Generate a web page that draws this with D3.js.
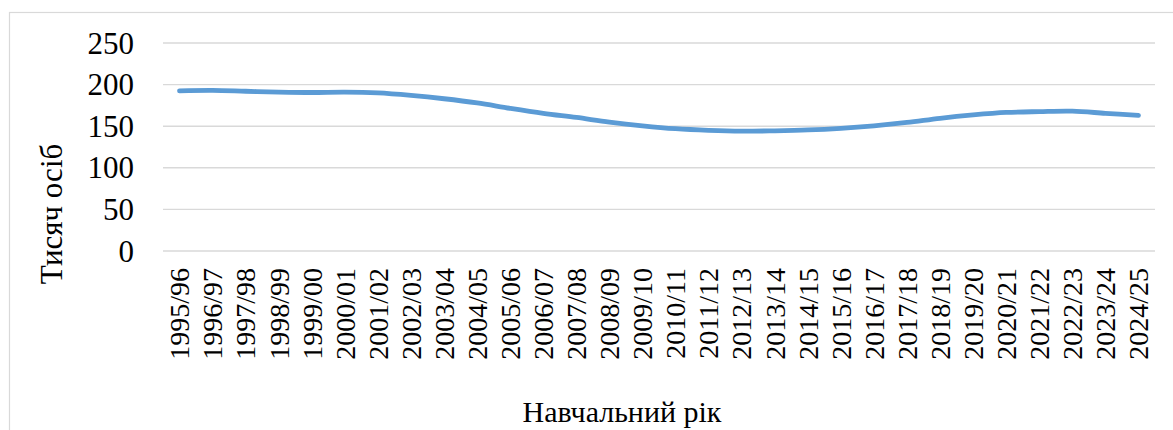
<!DOCTYPE html>
<html>
<head>
<meta charset="utf-8">
<script src="https://cdn.jsdelivr.net/npm/d3@7"></script>
</head>
<body style="margin:0">
<svg width="1173" height="430"></svg>
<script>
const years = ["1995/96", "1996/97", "1997/98", "1998/99", "1999/00", "2000/01", "2001/02", "2002/03",
  "2003/04", "2004/05", "2005/06", "2006/07", "2007/08", "2008/09", "2009/10", "2010/11", "2011/12",
  "2012/13", "2013/14", "2014/15", "2015/16", "2016/17", "2017/18", "2018/19", "2019/20", "2020/21",
  "2021/22", "2022/23", "2023/24", "2024/25"]
const students = [192.5, 193, 192, 191, 190.5, 191, 190, 187, 183, 178, 171.5, 165.5, 160.5, 155,
  150.5, 147, 145, 144, 144.5, 145.5, 147.5, 150.5, 154.5, 159.5, 163.5, 166.5, 167.5, 168, 165.5, 163]
const yTicks = [0, 50, 100, 150, 200, 250]

const svg = d3.select("svg")
const plotLeft = 163, plotRight = 1155, plotTop = 43, plotBottom = 251

// chart area border (runs off the right and bottom of the picture)
svg.append("rect")
  .attr("x", 9.5).attr("y", 12.5)
  .attr("width", 1300).attr("height", 600)
  .attr("fill", "none")
  .attr("stroke", "#d9d9d9")
  .attr("stroke-width", 1.2)

const x = d3.scaleBand().domain(years).range([plotLeft, plotRight])
const y = d3.scaleLinear().domain([0, 250]).range([plotBottom, plotTop])

svg.append("g")
  .selectAll("line")
  .data(yTicks)
  .join("line")
  .attr("x1", plotLeft).attr("x2", plotRight)
  .attr("y1", d => y(d)).attr("y2", d => y(d))
  .attr("stroke", "#d9d9d9")
  .attr("stroke-width", 1.4)

const line = d3.line()
  .x((d, i) => x(years[i]) + x.bandwidth() / 2)
  .y(d => y(d))
  .curve(d3.curveCatmullRom.alpha(0.5))

svg.append("path")
  .datum(students)
  .attr("d", line)
  .attr("fill", "none")
  .attr("stroke", "#5b9bd5")
  .attr("stroke-width", 4.8)
  .attr("stroke-linecap", "round")
  .attr("stroke-linejoin", "round")

// y tick labels
svg.append("g")
  .selectAll("text")
  .data(yTicks)
  .join("text")
  .attr("x", plotLeft - 29)
  .attr("y", d => y(d))
  .attr("dy", "0.34em")
  .attr("text-anchor", "end")
  .attr("font-family", "Liberation Serif")
  .attr("font-size", 31)
  .text(d => d)

// x tick labels, rotated
svg.append("g")
  .selectAll("text")
  .data(years)
  .join("text")
  .attr("transform", d => `translate(${x(d) + x.bandwidth() / 2},${plotBottom + 17}) rotate(-90)`)
  .attr("dy", "0.35em")
  .attr("text-anchor", "end")
  .attr("font-family", "Liberation Serif")
  .attr("font-size", 28)
  .text(d => d)

svg.append("text")
  .attr("x", 622).attr("y", 422)
  .attr("text-anchor", "middle")
  .attr("font-family", "Liberation Serif")
  .attr("font-size", 30)
  .text("Навчальний рік")

svg.append("text")
  .attr("transform", "translate(62,214) rotate(-90)")
  .attr("text-anchor", "middle")
  .attr("font-family", "Liberation Serif")
  .attr("font-size", 31)
  .text("Тисяч осіб")
</script>
</body>
</html>
